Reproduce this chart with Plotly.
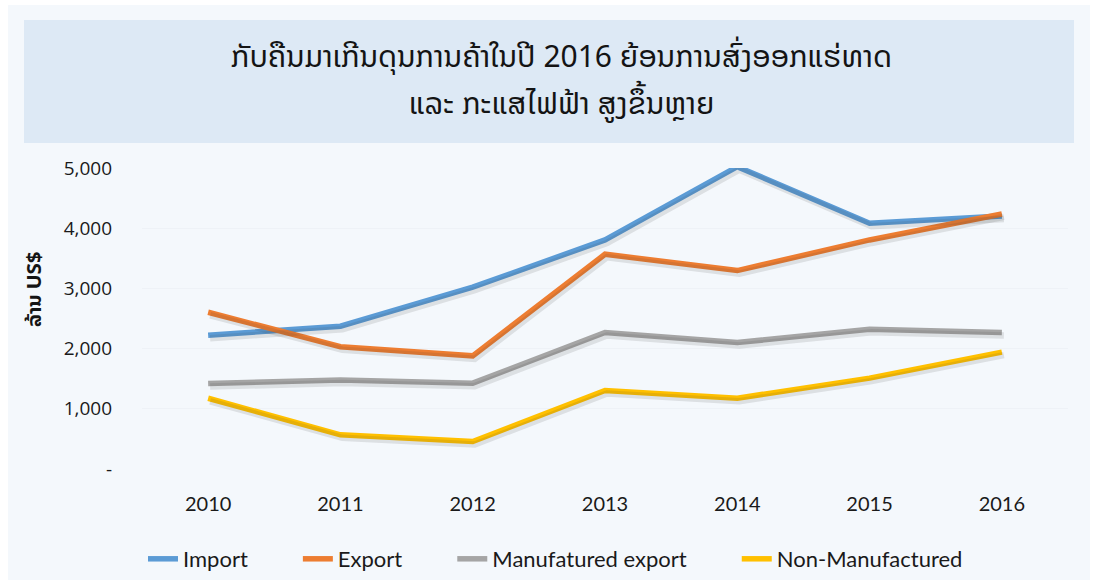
import plotly.graph_objects as go

# ---- data ----
years = ["2010", "2011", "2012", "2013", "2014", "2015", "2016"]
imports = [2223, 2372, 3020, 3805, 5022, 4082, 4203]
exports = [2604, 2031, 1880, 3568, 3296, 3805, 4237]
manufactured = [1419, 1478, 1426, 2267, 2100, 2322, 2266]
non_manufactured = [1175, 568, 457, 1304, 1177, 1509, 1941]
series_names = ["Import", "Export", "Manufatured export", "Non-Manufactured"]
series_colors = ["#5b9bd5", "#ed7d31", "#a5a5a5", "#ffc000"]
y_tick_vals = [0, 1000, 2000, 3000, 4000, 5000]
y_tick_text = ["-", "1,000", "2,000", "3,000", "4,000", "5,000"]
title_lines = ["ກັບຄືນມາເກີນດຸນການຄ້າໃນປີ 2016 ຍ້ອນການສົ່ງອອກແຮ່ທາດ",
               "ແລະ ກະແສໄຟຟ້າ ສູງຂຶ້ນຫຼາຍ"]
y_title = "ລ້ານ US$"

W, H = 1098, 585
ML, MR, MT, MB = 142, 30, 168, 116
PW, PH = W - ML - MR, H - MT - MB


def px(x):
    return (x - ML) / PW


def py(y):
    return (H - MB - y) / PH


all_series = [imports, exports, manufactured, non_manufactured]
pad = "\u00a0" * 8

fig = go.Figure()

# soft shadows (drawn on slightly offset overlay axes)
for vals in all_series:
    fig.add_trace(go.Scatter(
        x=years, y=vals, mode="lines", xaxis="x2", yaxis="y2",
        line=dict(color="rgba(60,60,60,0.13)", width=6.5),
        showlegend=False, hoverinfo="skip", cliponaxis=False))

for name, vals, col in zip(series_names, all_series, series_colors):
    fig.add_trace(go.Scatter(
        x=years, y=vals, mode="lines", name=name + pad,
        line=dict(color=col, width=5.5),
        cliponaxis=False))

dx = 2.0 / (PW / 7.0)
dy = 3.0 * 5000 / PH

fig.update_layout(
    width=W, height=H,
    margin=dict(l=ML, r=MR, t=MT, b=MB, autoexpand=False),
    paper_bgcolor="white",
    plot_bgcolor="rgba(0,0,0,0)",
    showlegend=True,
    legend=dict(orientation="h", x=px(578), xanchor="center", y=py(559), yanchor="middle",
                font=dict(family="Lato, sans-serif", size=22, color="#1a1a1a"),
                bgcolor="rgba(0,0,0,0)", itemwidth=30, tracegroupgap=0),
    xaxis=dict(type="category", range=[-0.5, 6.5], showgrid=False, zeroline=False,
               showline=False, ticks="", ticklabelstandoff=21,
               tickfont=dict(family="Lato, sans-serif", size=20, color="#1a1a1a")),
    yaxis=dict(range=[0, 5000], tickvals=y_tick_vals, ticktext=y_tick_text,
               showgrid=True, gridcolor="#eef2f7", gridwidth=1, zeroline=False,
               showline=False, ticks="", ticklabelstandoff=29,
               tickfont=dict(family="Open Sans, sans-serif", size=19, color="#1a1a1a")),
    xaxis2=dict(type="category", range=[-0.5 - dx, 6.5 - dx], overlaying="x", visible=False),
    yaxis2=dict(range=[dy, 5000 + dy], overlaying="y", visible=False),
    shapes=[
        dict(type="rect", xref="paper", yref="paper", x0=px(8), x1=px(1090), y0=py(580), y1=py(5),
             fillcolor="#f4f8fc", line=dict(width=0), layer="below"),
        dict(type="rect", xref="paper", yref="paper", x0=px(24), x1=px(1074), y0=py(143), y1=py(20),
             fillcolor="#dde9f5", line=dict(width=0), layer="below"),
    ],
    annotations=[
        dict(text=title_lines[0], xref="paper", yref="paper", x=px(561), y=py(57),
             xanchor="center", yanchor="middle", showarrow=False,
             font=dict(family="Noto Sans Lao, DejaVu Sans, sans-serif", size=30, color="#141414")),
        dict(text=title_lines[1], xref="paper", yref="paper", x=px(561), y=py(103),
             xanchor="center", yanchor="middle", showarrow=False,
             font=dict(family="Noto Sans Lao, DejaVu Sans, sans-serif", size=30, color="#141414")),
        dict(text="<b>" + y_title + "</b>", xref="paper", yref="paper", x=px(33), y=py(290),
             xanchor="center", yanchor="middle", showarrow=False, textangle=-90,
             font=dict(family="Noto Sans Lao, DejaVu Sans, sans-serif", size=20, color="#141414")),
    ],
)

fig.write_html("out.html",
               config={"displayModeBar": False},
               post_script="document.body.style.margin='0';document.body.style.padding='0';")
